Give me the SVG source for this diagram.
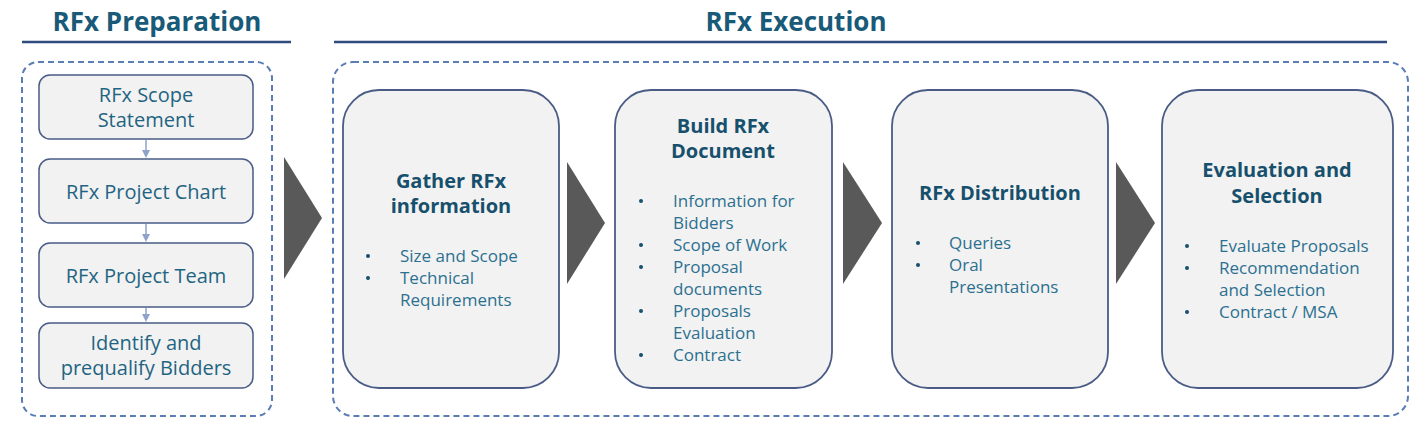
<svg xmlns="http://www.w3.org/2000/svg" width="1427" height="427" viewBox="0 0 1427 427">
<defs>
<marker id="ah" markerWidth="8" markerHeight="8" refX="4" refY="4" orient="auto" markerUnits="userSpaceOnUse">
<path d="M0,0 L8,4 L0,8 Z" fill="#8ea3c8"/>
</marker>
<style>
.hdr{font-family:"Open Sans","Noto Sans",sans-serif;font-weight:700;font-size:26px;fill:#185a78;text-anchor:middle}
.ul{stroke:#2f4a7c;stroke-width:2.5}
.dash{fill:none;stroke:#5b7db5;stroke-width:2;stroke-dasharray:6,4}
.sb{fill:#f2f2f2;stroke:#4a5c86;stroke-width:1.5}
.st{font-family:"Open Sans","Noto Sans",sans-serif;font-size:20px;fill:#1f6482;text-anchor:middle}
.bb{fill:#f2f2f2;stroke:#4a5c86;stroke-width:1.8}
.bt{font-family:"Open Sans","Noto Sans",sans-serif;font-weight:700;font-size:20px;fill:#17506d;text-anchor:middle}
.li{font-family:"Open Sans","Noto Sans",sans-serif;font-size:17px;fill:#2b7090}
.dot{fill:#17506d}
.chev{fill:#595959}
.con{stroke:#8ea3c8;stroke-width:1.5;fill:none}
</style>
</defs>

<g id="headers">
<text class="hdr" x="157" y="31">RFx Preparation</text>
<line class="ul" x1="22" y1="42" x2="291" y2="42"/>
<text class="hdr" x="796" y="31">RFx Execution</text>
<line class="ul" x1="334" y1="42" x2="1387" y2="42"/>
</g>

<g id="groups">
<rect class="dash" x="22" y="62" width="250" height="354" rx="16"/>
<rect class="dash" x="333" y="62" width="1075" height="354" rx="20"/>
</g>

<g id="connectors">
<line class="con" x1="146" y1="140" x2="146" y2="154" marker-end="url(#ah)"/>
<line class="con" x1="146" y1="224" x2="146" y2="238" marker-end="url(#ah)"/>
<line class="con" x1="146" y1="308" x2="146" y2="318" marker-end="url(#ah)"/>
<polygon class="chev" points="284,157 322,218 284,279"/>
<polygon class="chev" points="567,162 605,223 567,284"/>
<polygon class="chev" points="843,162 882,223 843,284"/>
<polygon class="chev" points="1116,162 1155,223 1116,284"/>
</g>

<g id="scope-statement">
<rect class="sb" x="39" y="75" width="214" height="64" rx="11"/>
<text class="st" x="146" y="102">RFx Scope</text>
<text class="st" x="146" y="127">Statement</text>
</g>
<g id="project-chart">
<rect class="sb" x="39" y="159" width="214" height="64" rx="11"/>
<text class="st" x="146" y="199">RFx Project Chart</text>
</g>
<g id="project-team">
<rect class="sb" x="39" y="243" width="214" height="64" rx="11"/>
<text class="st" x="146" y="283">RFx Project Team</text>
</g>
<g id="identify-bidders">
<rect class="sb" x="39" y="323" width="214" height="65" rx="11"/>
<text class="st" x="146" y="350">Identify and</text>
<text class="st" x="146" y="375">prequalify Bidders</text>
</g>

<g id="gather">
<rect class="bb" x="343" y="90" width="216" height="298" rx="36"/>
<text class="bt" x="451" y="188">Gather RFx</text>
<text class="bt" x="451" y="213">information</text>
<circle class="dot" cx="368" cy="256" r="2"/>
<circle class="dot" cx="368" cy="278" r="2"/>
<text class="li" x="400" y="262">Size and Scope</text>
<text class="li" x="400" y="284">Technical</text>
<text class="li" x="400" y="306">Requirements</text>
</g>

<g id="build">
<rect class="bb" x="615" y="90" width="217" height="298" rx="36"/>
<text class="bt" x="723" y="133">Build RFx</text>
<text class="bt" x="723" y="158">Document</text>
<circle class="dot" cx="641" cy="201" r="2"/>
<circle class="dot" cx="641" cy="245" r="2"/>
<circle class="dot" cx="641" cy="267" r="2"/>
<circle class="dot" cx="641" cy="311" r="2"/>
<circle class="dot" cx="641" cy="355" r="2"/>
<text class="li" x="673" y="207">Information for</text>
<text class="li" x="673" y="229">Bidders</text>
<text class="li" x="673" y="251">Scope of Work</text>
<text class="li" x="673" y="273">Proposal</text>
<text class="li" x="673" y="295">documents</text>
<text class="li" x="673" y="317">Proposals</text>
<text class="li" x="673" y="339">Evaluation</text>
<text class="li" x="673" y="361">Contract</text>
</g>

<g id="distribution">
<rect class="bb" x="892" y="90" width="216" height="298" rx="36"/>
<text class="bt" x="1000" y="200">RFx Distribution</text>
<circle class="dot" cx="918" cy="243" r="2"/>
<circle class="dot" cx="918" cy="265" r="2"/>
<text class="li" x="949" y="249">Queries</text>
<text class="li" x="949" y="271">Oral</text>
<text class="li" x="949" y="293">Presentations</text>
</g>

<g id="evaluation">
<rect class="bb" x="1162" y="90" width="231" height="298" rx="36"/>
<text class="bt" x="1277" y="177">Evaluation and</text>
<text class="bt" x="1277" y="203">Selection</text>
<circle class="dot" cx="1187" cy="246" r="2"/>
<circle class="dot" cx="1187" cy="268" r="2"/>
<circle class="dot" cx="1187" cy="312" r="2"/>
<text class="li" x="1219" y="252">Evaluate Proposals</text>
<text class="li" x="1219" y="274">Recommendation</text>
<text class="li" x="1219" y="296">and Selection</text>
<text class="li" x="1219" y="318">Contract / MSA</text>
</g>
</svg>
